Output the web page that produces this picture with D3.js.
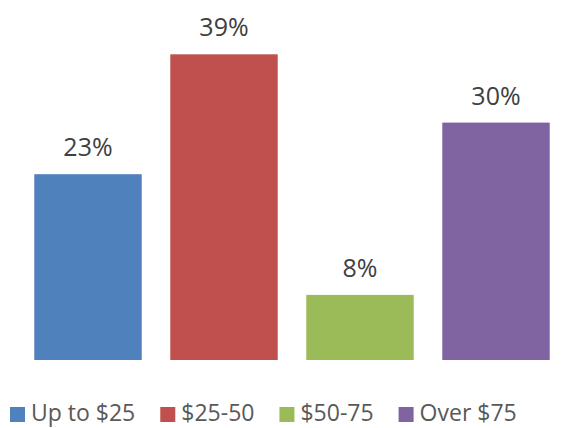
<!DOCTYPE html>
<html>
<head>
<meta charset="utf-8">
<script src="https://cdn.jsdelivr.net/npm/d3@7"></script>
<style>
  body { margin: 0; background: #fff; }
  text { font-family: "Open Sans", "Noto Sans", sans-serif; }
</style>
</head>
<body>
<svg id="canvas" width="587" height="428"></svg>
<script>
let categories = ['Up to $25', '$25-50', '$50-75', 'Over $75']
// bar heights (labels show the rounded values)
let values = [23.4, 38.5, 8.2, 29.9]
let labels = ['23%', '39%', '8%', '30%']
let colors = ['#4F81BD', '#C0504D', '#9BBB59', '#8064A2']

let svg = d3.select('#canvas')

let x = d3.scaleBand()
    .domain(categories)
    .range([20, 564])
    .paddingInner(0.21)
    .paddingOuter(0.105)

let y = d3.scaleLinear()
    .domain([0, 40])
    .range([360, 42.4])

// bars
svg.selectAll('rect.bar')
    .data(values)
    .enter().append('rect')
    .attr('class', 'bar')
    .attr('x', (d, i) => x(categories[i]))
    .attr('y', d => y(d))
    .attr('width', x.bandwidth())
    .attr('height', d => y(0) - y(d))
    .attr('fill', (d, i) => colors[i])

// value labels
svg.selectAll('text.lbl')
    .data(values)
    .enter().append('text')
    .attr('class', 'lbl')
    .attr('x', (d, i) => x(categories[i]) + x.bandwidth() / 2)
    .attr('y', d => y(d) - 18)
    .attr('text-anchor', 'middle')
    .attr('font-size', 25)
    .attr('fill', '#404040')
    .text((d, i) => labels[i])

// legend
let legend = svg.append('g').attr('transform', 'translate(10,0)')
let lx = 0
categories.forEach((c, i) => {
    let g = legend.append('g').attr('transform', `translate(${lx},0)`)
    g.append('rect')
        .attr('x', 0).attr('y', 407)
        .attr('width', 15).attr('height', 15)
        .attr('fill', colors[i])
    let t = g.append('text')
        .attr('x', 21).attr('y', 421)
        .attr('font-size', 23)
        .attr('fill', '#595959')
        .text(c)
    lx += 21 + t.node().getComputedTextLength() + 25
})
</script>
</body>
</html>
